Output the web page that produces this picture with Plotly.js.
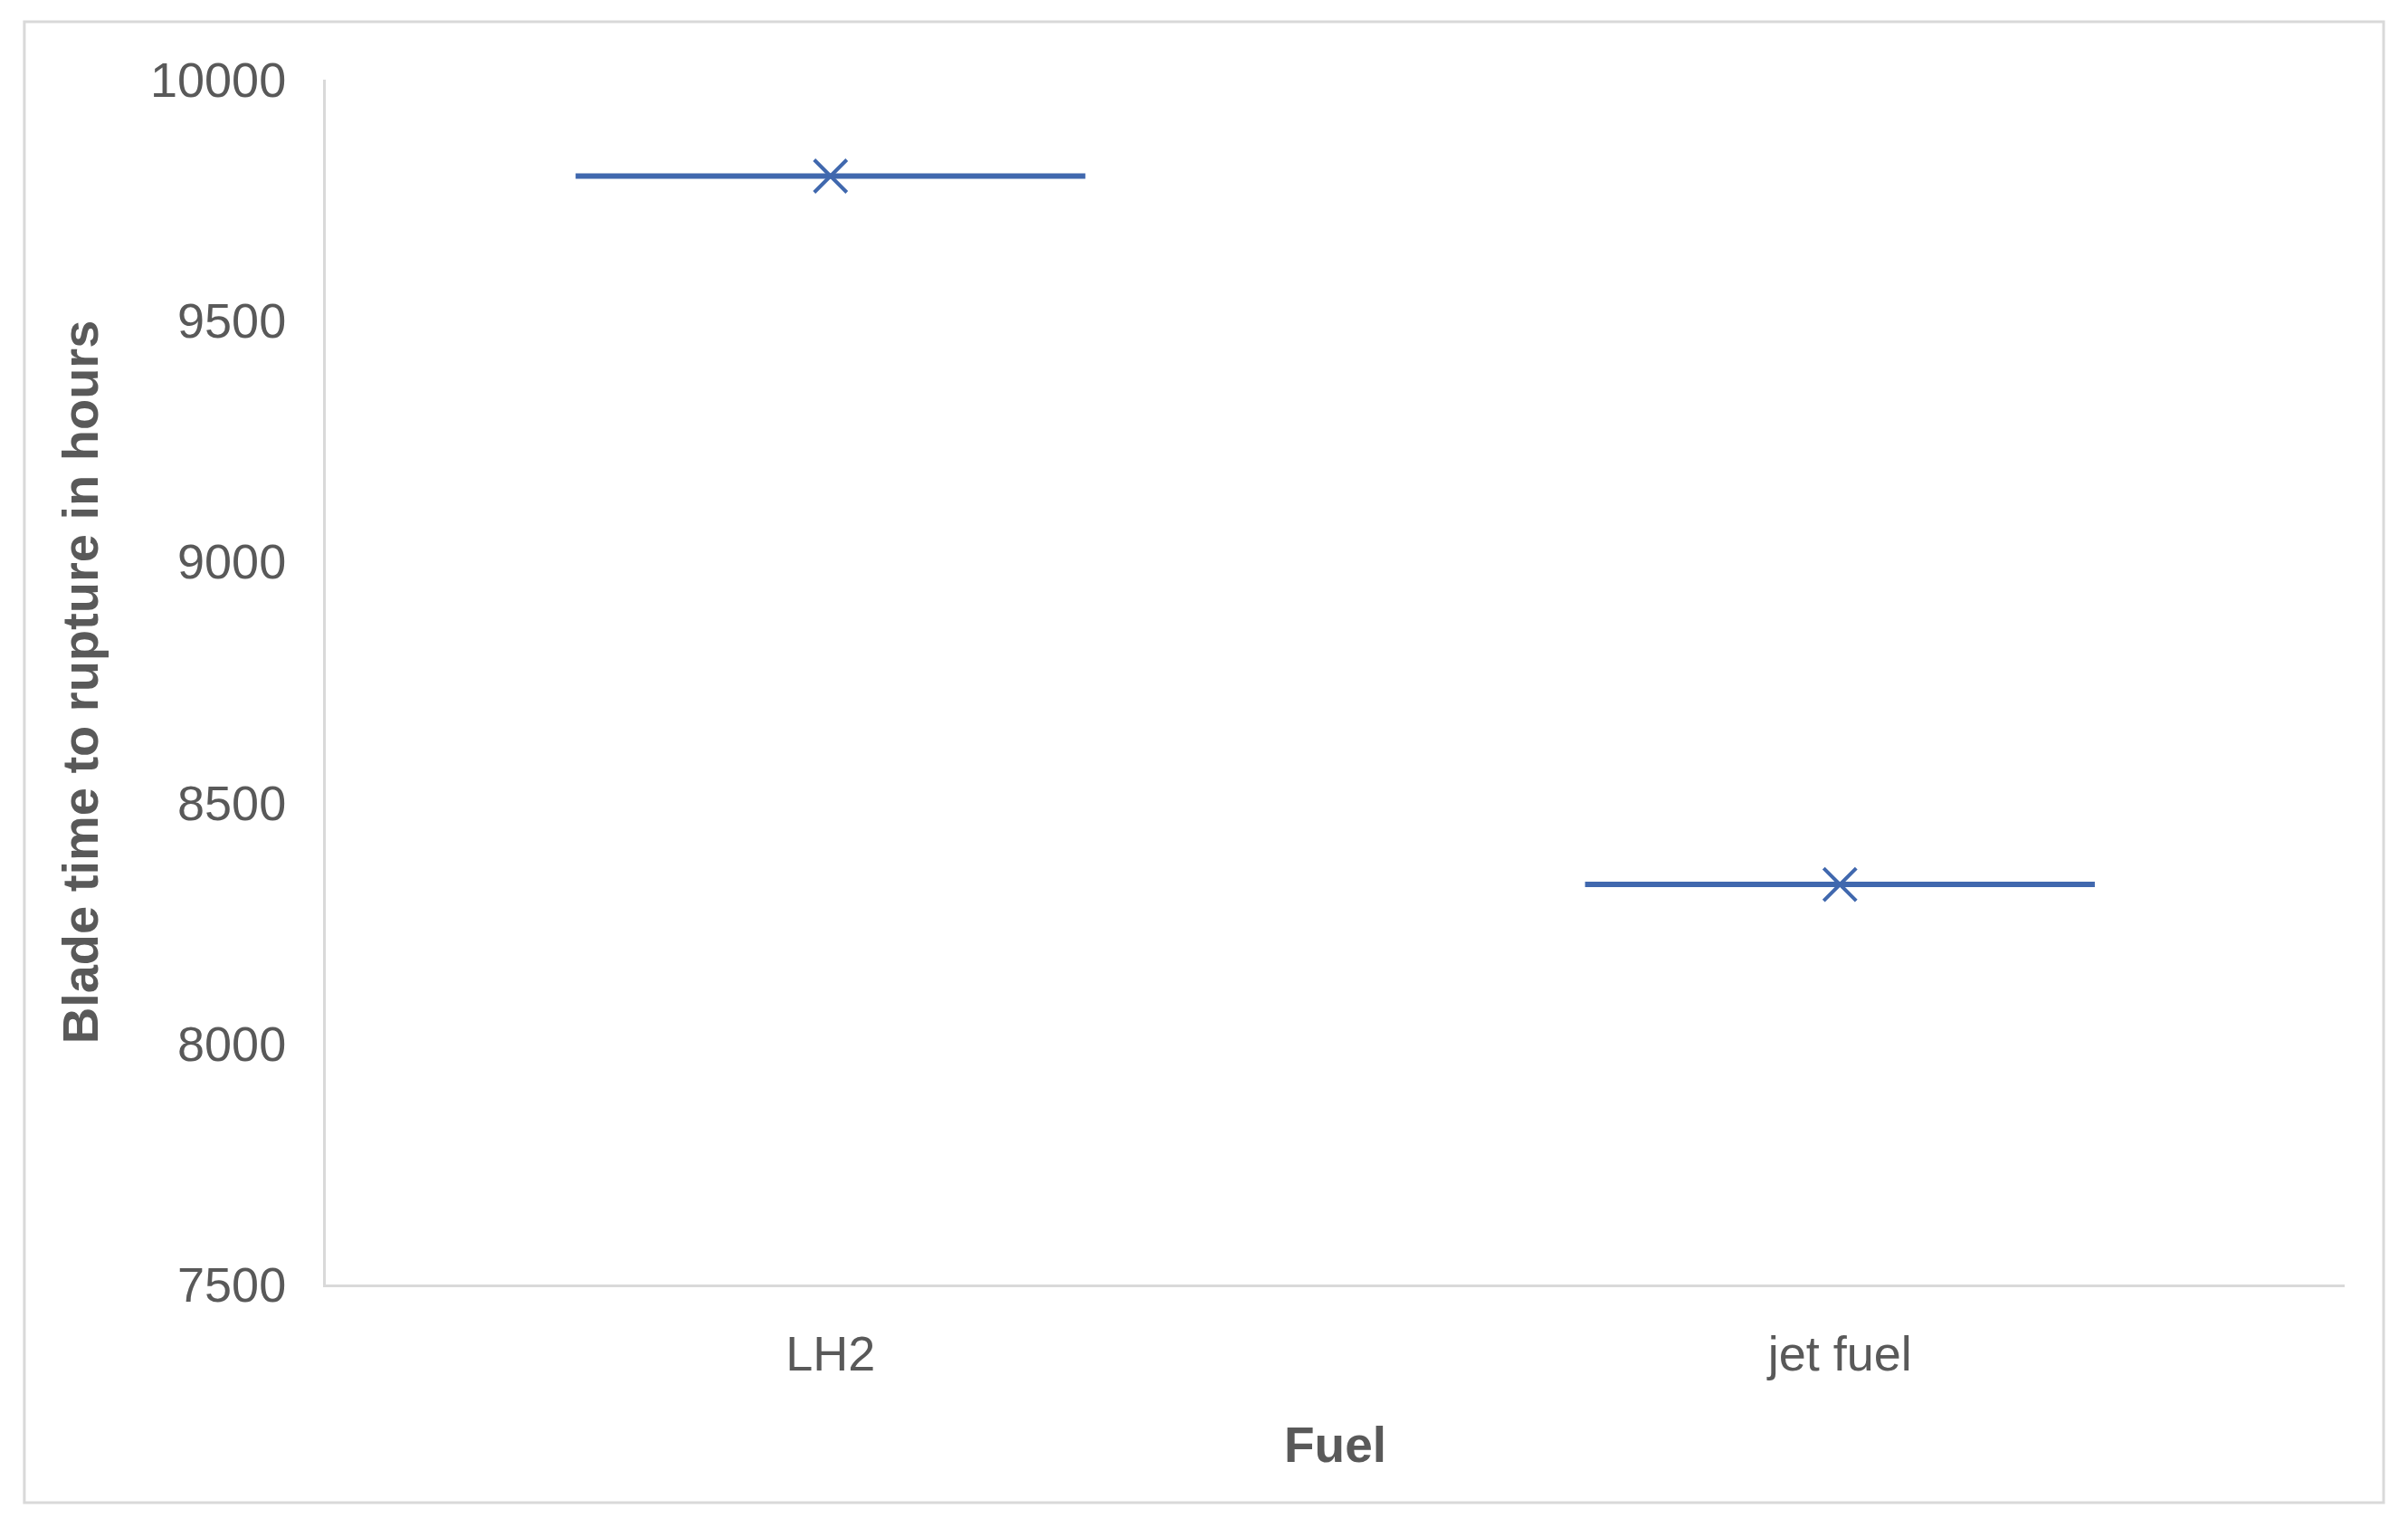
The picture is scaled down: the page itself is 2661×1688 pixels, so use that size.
<!DOCTYPE html>
<html>
<head>
<meta charset="utf-8">
<script src="https://cdn.plot.ly/plotly-3.0.1.min.js"></script>
<style>html,body{margin:0;padding:0;background:#fff;}#chart{width:2661px;height:1688px;}</style>
</head>
<body>
<div id="chart"></div>
<script>
// Data
const fuels = ["LH2", "jet fuel"];
const ruptureHours = [9800, 8330];
const yTicks = [7500, 8000, 8500, 9000, 9500, 10000];

const seriesColor = "#4068ae";
const textColor = "#595959";
const fontFam = "Liberation Sans, Arial, sans-serif";

const traces = [
  {
    type: "box",
    x: fuels,
    y: ruptureHours,
    boxpoints: false,
    line: {color: seriesColor, width: 6},
    fillcolor: "rgba(0,0,0,0)",
    whiskerwidth: 0,
    hoverinfo: "y",
    showlegend: false
  },
  {
    type: "scatter",
    mode: "markers",
    x: fuels,
    y: ruptureHours,
    marker: {symbol: "x-thin-open", size: 36, color: seriesColor, line: {color: seriesColor, width: 4}},
    showlegend: false,
    hoverinfo: "skip"
  }
];

const layout = {
  width: 2661,
  height: 1688,
  paper_bgcolor: "#ffffff",
  plot_bgcolor: "#ffffff",
  margin: {l: 360, r: 70, t: 88, b: 269},
  boxgap: 0.495,
  boxgroupgap: 0,
  font: {family: fontFam, size: 54, color: textColor},
  xaxis: {
    type: "category",
    showline: true,
    linecolor: "#d9d9d9",
    linewidth: 3,
    showgrid: false,
    zeroline: false,
    ticks: "",
    ticklabelstandoff: 27,
    tickfont: {family: fontFam, size: 54, color: textColor},
    title: {text: "<b>Fuel</b>", font: {family: fontFam, size: 55, color: textColor}, standoff: 53},
    automargin: false
  },
  yaxis: {
    range: [7500, 10000],
    tickvals: yTicks,
    ticktext: yTicks.map(String),
    showline: true,
    linecolor: "#d9d9d9",
    linewidth: 3,
    showgrid: false,
    zeroline: false,
    ticks: "",
    ticklabelstandoff: 30,
    tickfont: {family: fontFam, size: 54, color: textColor},
    title: {text: "<b>Blade time to rupture in hours</b>", font: {family: fontFam, size: 56, color: textColor}, standoff: 40},
    automargin: false
  },
  shapes: [
    {type: "rect", xref: "paper", yref: "paper", x0: -0.1493, x1: 1.0193, y0: -0.181, y1: 1.048,
     line: {color: "#d9d9d9", width: 3}, fillcolor: "rgba(0,0,0,0)", layer: "below"}
  ]
};

Plotly.newPlot("chart", traces, layout, {displayModeBar: false, staticPlot: true});
</script>
</body>
</html>
